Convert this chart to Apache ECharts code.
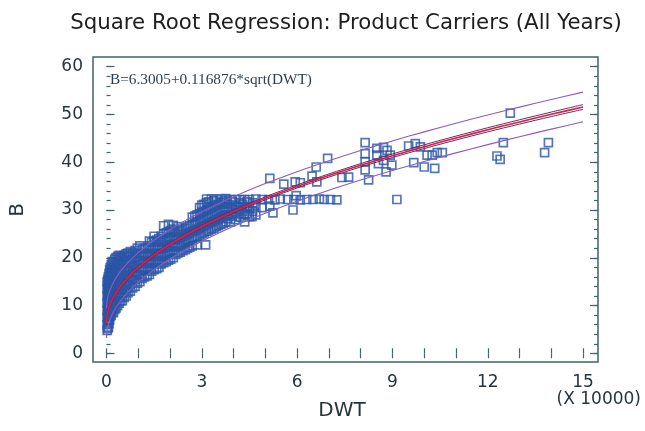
<!DOCTYPE html>
<html>
<head>
<meta charset="utf-8">
<script src="https://cdn.jsdelivr.net/npm/echarts@6/dist/echarts.min.js"></script>
<style>html,body{margin:0;padding:0;background:#fff}#c{width:645px;height:431px}</style>
</head>
<body>
<div id="c"></div>
<script>
// Observed ships: [DWT (x 10000), B]
const densePoints = [
 [0.02,4.8],[0.02,6],[0.02,7.5],[0.02,9],[0.02,10.5],[0.02,12],[0.02,13.5],[0.02,15],
 [0.06,5.5],[0.06,7],[0.06,8.5],[0.06,10],[0.06,11.5],[0.06,13],[0.06,14.5],[0.06,16],
 [0.1,7],[0.1,8.5],[0.1,10],[0.1,11.5],[0.1,13],[0.1,14.5],[0.1,16],[0.1,17.5],
 [0.15,8],[0.15,9.5],[0.15,11],[0.15,12.5],[0.15,14],[0.15,15.5],[0.15,17],[0.15,18.5],
 [0.22,8.5],[0.22,10],[0.22,11.5],[0.22,13],[0.22,14.5],[0.22,16],[0.22,17.5],[0.22,19],
 [0.3,9.5],[0.3,11],[0.3,12.5],[0.3,14],[0.3,15.5],[0.3,17],[0.3,18.5],[0.3,20],
 [0.4,10.5],[0.4,12],[0.4,13.5],[0.4,15],[0.4,16.5],[0.4,18],[0.4,19.5],[0.4,20.5],
 [0.5,11],[0.5,12.5],[0.5,14],[0.5,15.5],[0.5,17],[0.5,18.5],[0.5,20],
 [0.62,12],[0.62,13.5],[0.62,15],[0.62,16.5],[0.62,18],[0.62,19.5],[0.62,20.8],
 [0.75,13],[0.75,14.5],[0.75,16],[0.75,17.5],[0.75,19],[0.75,20.5],[0.75,21.3],
 [0.9,14],[0.9,15.5],[0.9,17],[0.9,18.5],[0.9,20],[0.9,21.5],
 [1.05,15],[1.05,16.5],[1.05,18],[1.05,19.5],[1.05,21],[1.05,22.5],
 [1.2,16],[1.2,17.5],[1.2,19],[1.2,20.5],[1.2,22],
 [1.35,16.5],[1.35,18],[1.35,19.5],[1.35,21],[1.35,22.5],[1.35,23.5],
 [1.5,17.5],[1.5,19],[1.5,20.5],[1.5,22],[1.5,23.5],[1.5,24.5],
 [1.65,18],[1.65,19.5],[1.65,21],[1.65,22.5],[1.65,24],
 [1.8,19],[1.8,20.5],[1.8,22],[1.8,23.5],[1.8,25],[1.8,26.7],
 [1.95,19.5],[1.95,21],[1.95,22.5],[1.95,24],[1.95,25.5],[1.95,27],
 [2.1,20],[2.1,21.5],[2.1,23],[2.1,24.5],[2.1,26],[2.1,26.8],
 [2.25,21],[2.25,22.5],[2.25,24],[2.25,25.5],[2.25,26.5],
 [2.4,21.5],[2.4,23],[2.4,24.5],[2.4,26],
 [2.55,22],[2.55,23.5],[2.55,25],[2.55,26.5],
 [2.7,22.5],[2.7,24],[2.7,25.5],[2.7,27],[2.7,28.5],
 [2.85,22.7],[2.85,24.5],[2.85,26],[2.85,27.5],[2.85,29],
 [3.0,25],[3.0,26.5],[3.0,28],[3.0,29.5],[3.0,31],[3.12,22.7],
 [3.15,25.5],[3.15,27],[3.15,28.5],[3.15,30],[3.15,31.5],[3.15,32.3],
 [3.3,26],[3.3,27.5],[3.3,29],[3.3,30.5],[3.3,32.3],
 [3.45,26.5],[3.45,28],[3.45,29.5],[3.45,31],[3.45,32.3],
 [3.6,27],[3.6,28.5],[3.6,30],[3.6,31.5],[3.6,32.3],
 [3.75,27.5],[3.75,29],[3.75,30.5],[3.75,32],[3.75,32.4],
 [3.9,27.5],[3.9,29],[3.9,30.5],[3.9,32.2],
 [4.05,28],[4.05,29.5],[4.05,31],[4.05,32.2],
 [4.2,28.5],[4.2,30],[4.2,31.5],[4.2,32.2],
 [4.35,27.5],[4.35,29],[4.35,30.5],[4.35,32.2],
 [4.5,28.6],[4.5,30.5],[4.5,32.2],
 [4.7,29],[4.7,31],[4.7,32.3],
 [4.9,30.5],[4.9,32.2]
];
const densePoints2 = [
 [0.04,5.2],[0.04,6.7],[0.04,8.2],[0.04,9.7],[0.04,11.2],[0.04,12.7],[0.04,14.2],[0.04,15.5],
 [0.08,6.2],[0.08,7.7],[0.08,9.2],[0.08,10.7],[0.08,12.2],[0.08,13.7],[0.08,15.2],[0.08,16.7],
 [0.12,7.7],[0.12,9.2],[0.12,10.7],[0.12,12.2],[0.12,13.7],[0.12,15.2],[0.12,16.7],[0.12,18],
 [0.18,8.7],[0.18,10.2],[0.18,11.7],[0.18,13.2],[0.18,14.7],[0.18,16.2],[0.18,17.7],[0.18,19.2],
 [0.26,9.2],[0.26,10.7],[0.26,12.2],[0.26,13.7],[0.26,15.2],[0.26,16.7],[0.26,18.2],[0.26,19.7],
 [0.35,10],[0.35,11.7],[0.35,13.2],[0.35,14.7],[0.35,16.2],[0.35,17.7],[0.35,19.2],[0.35,20.3],
 [0.45,11],[0.45,12.7],[0.45,14.2],[0.45,15.7],[0.45,17.2],[0.45,18.7],[0.45,20.2],
 [0.56,11.7],[0.56,13.2],[0.56,14.7],[0.56,16.2],[0.56,17.7],[0.56,19.2],[0.56,20.5],
 [0.68,12.7],[0.68,14.2],[0.68,15.7],[0.68,17.2],[0.68,18.7],[0.68,20.2],[0.68,21],
 [0.82,13.7],[0.82,15.2],[0.82,16.7],[0.82,18.2],[0.82,19.7],[0.82,21],
 [0.97,14.7],[0.97,16.2],[0.97,17.7],[0.97,19.2],[0.97,20.7],[0.97,22],
 [1.12,15.7],[1.12,17.2],[1.12,18.7],[1.12,20.2],[1.12,21.7],
 [1.28,16.2],[1.28,17.7],[1.28,19.2],[1.28,20.7],[1.28,22.2],
 [1.42,17.2],[1.42,18.7],[1.42,20.2],[1.42,21.7],[1.42,23.2],
 [1.58,17.7],[1.58,19.2],[1.58,20.7],[1.58,22.2],[1.58,23.7],
 [1.72,18.7],[1.72,20.2],[1.72,21.7],[1.72,23.2],[1.72,24.5],
 [1.88,19.2],[1.88,20.7],[1.88,22.2],[1.88,23.7],[1.88,25.2],
 [2.02,19.7],[2.02,21.2],[2.02,22.7],[2.02,24.2],[2.02,25.7],
 [2.18,20.7],[2.18,22.2],[2.18,23.7],[2.18,25.2],
 [2.32,21.2],[2.32,22.7],[2.32,24.2],[2.32,25.7],
 [2.48,21.7],[2.48,23.2],[2.48,24.7],[2.48,26.2],
 [2.62,22.2],[2.62,23.7],[2.62,25.2],[2.62,26.7],
 [2.78,24.2],[2.78,25.7],[2.78,27.2],[2.78,28.7],
 [2.93,24.7],[2.93,26.2],[2.93,27.7],[2.93,29.2],[2.93,30.5],
 [3.07,25.2],[3.07,26.7],[3.07,28.2],[3.07,29.7],[3.07,31.2],
 [3.22,25.7],[3.22,27.2],[3.22,28.7],[3.22,30.2],[3.22,31.7],
 [3.38,26.2],[3.38,27.7],[3.38,29.2],[3.38,30.7],[3.38,31.9],
 [3.52,26.7],[3.52,28.2],[3.52,29.7],[3.52,31.2],
 [3.68,27.2],[3.68,28.7],[3.68,30.2],[3.68,31.7],
 [3.82,28.2],[3.82,29.7],[3.82,31.2],
 [3.97,28.7],[3.97,30.2],[3.97,31.7],
 [4.12,29.2],[4.12,30.7],
 [4.28,29.7],[4.28,31.2],
 [4.42,29.2],[4.42,30.7],[4.42,31.7],
 [4.6,29.7],[4.6,31.5]
];
const rowPoints = [
 [5.1,32.2],[5.3,32.1],[5.47,32.3],[5.7,32.2],[5.9,32.2],[6.1,32.1],[6.3,32.2],
 [6.5,32.2],[6.7,32.3],[6.85,32.2],[7.05,32.2],[7.25,32.1]
];
const sparsePoints = [
 [5.14,36.6],[5.58,35.4],[5.87,30.0],[5.24,29.4],[5.14,30.8],[5.94,35.9],[6.1,35.7],
 [6.47,37.1],[6.6,39.0],[6.96,40.8],[6.62,35.9],[7.41,36.8],[7.62,36.9],[5.97,33.0],
 [4.58,28.6],
 [8.14,44.1],[8.14,41.8],[8.14,40.1],[8.14,38.4],[8.25,36.3],
 [8.51,42.9],[8.51,41.5],[8.56,39.7],[8.8,38.0],
 [8.83,42.5],[8.93,41.5],[8.98,39.4],[8.72,40.4],[8.72,43.1],
 [9.14,32.2],
 [9.51,43.4],[9.72,43.9],[9.88,43.2],[10.09,41.5],[10.25,41.5],[10.41,42.0],[10.57,42.0],
 [9.67,39.9],[10.0,39.0],[10.33,38.7],
 [12.71,50.3],[12.49,44.1],[12.29,41.3],[12.39,40.6],[13.91,44.1],[13.79,42.0]
];

// Fitted model B = 6.3005 + 0.116876*sqrt(DWT) and limits
const curveX    = [0, 0.02, 0.05, 0.1, 0.2, 0.35, 0.5, 0.75, 1, 1.5, 2, 2.5, 3, 4, 5, 6, 7, 8, 9, 10, 11, 12, 13, 14, 15];
const fitB      = [6.30, 7.95, 8.91, 10.00, 11.53, 13.21, 14.56, 16.42, 17.99, 20.61, 22.83, 24.78, 26.54, 29.68, 32.44, 34.93, 37.22, 39.36, 41.36, 43.26, 45.06, 46.79, 48.44, 50.03, 51.57];
const predUpper = [9.40, 11.05, 12.01, 13.10, 14.63, 16.31, 17.66, 19.52, 21.09, 23.71, 25.93, 27.88, 29.64, 32.78, 35.54, 38.03, 40.32, 42.46, 44.46, 46.36, 48.16, 49.89, 51.54, 53.13, 54.67];
const predLower = [3.20, 4.85, 5.81, 6.90, 8.43, 10.11, 11.46, 13.32, 14.89, 17.51, 19.73, 21.68, 23.44, 26.58, 29.34, 31.83, 34.12, 36.26, 38.26, 40.16, 41.96, 43.69, 45.34, 46.93, 48.47];
const confUpper = [6.80, 8.42, 9.36, 10.43, 11.94, 13.60, 14.94, 16.78, 18.33, 20.94, 23.15, 25.09, 26.85, 29.99, 32.75, 35.25, 37.55, 39.71, 41.73, 43.65, 45.47, 47.22, 48.89, 50.50, 52.07];
const confLower = [5.80, 7.48, 8.46, 9.57, 11.12, 12.82, 14.18, 16.06, 17.65, 20.28, 22.51, 24.47, 26.23, 29.37, 32.13, 34.61, 36.89, 39.01, 40.99, 42.87, 44.65, 46.36, 47.99, 49.56, 51.07];

const xTickValues  = [0,1,2,3,4,5,6,7,8,9,10,11,12,13,14,15];
const xLabelValues = [0,3,6,9,12,15];
const yMajorValues = [0,10,20,30,40,50,60];
const yMinorValues = [0,2,4,6,8,10,12,14,16,18,20,22,24,26,28,30,32,34,36,38,40,42,44,46,48,50,52,54,56,58,60];

const pair = (xs, ys) => xs.map((x, i) => [x, ys[i]]);
const frameColor = '#43626a';
const textColor = '#26363c';
const XMIN = -0.425, XMAX = 15.47, YMIN = -1.82, YMAX = 62.03;

function xAx(pos, labels) {
  return {
    type: 'value', position: pos, min: XMIN, max: XMAX,
    axisLine: {show: false}, splitLine: {show: false},
    axisTick: {show: true, inside: true, length: 5, customValues: xTickValues, lineStyle: {color: frameColor, width: 1.2}},
    axisLabel: labels ? {show: true, customValues: xLabelValues, fontSize: 17, fontFamily: 'DejaVu Sans', color: textColor, margin: 12} : {show: false}
  };
}
function yAx(pos, vals, len, labels) {
  return {
    type: 'value', position: pos, min: YMIN, max: YMAX,
    axisLine: {show: false}, splitLine: {show: false},
    axisTick: {show: true, inside: true, length: len, customValues: vals, lineStyle: {color: frameColor, width: 1.2}},
    axisLabel: labels ? {show: true, customValues: yMajorValues, fontSize: 17, fontFamily: 'DejaVu Sans', color: textColor, margin: 10} : {show: false}
  };
}
function lineSeries(data, color, width, z) {
  return {type: 'line', data: data, xAxisIndex: 0, yAxisIndex: 0, showSymbol: false, smooth: 0.3,
    lineStyle: {color: color, width: width}, z: z, silent: true, animation: false};
}

const chart = echarts.init(document.getElementById('c'), null, {renderer: 'canvas'});
chart.setOption({
  animation: false,
  backgroundColor: '#ffffff',
  title: {text: 'Square Root Regression: Product Carriers (All Years)', left: 341, top: 8, textAlign: 'center',
    textStyle: {fontFamily: 'DejaVu Sans', fontSize: 21.3, fontWeight: 'normal', color: '#1e1e1e'}},
  grid: {left: 93, top: 57, right: 47, bottom: 69, show: true, borderColor: frameColor, borderWidth: 1.5, backgroundColor: '#fff'},
  xAxis: [xAx('bottom', true), xAx('top', false)],
  yAxis: [yAx('left', yMajorValues, 8, true), yAx('left', yMinorValues, 4, false), yAx('right', yMajorValues, 8, false), yAx('right', yMinorValues, 4, false)],
  series: [
    {type: 'scatter', data: densePoints.concat(densePoints2, rowPoints, sparsePoints), symbol: 'rect', symbolSize: 8,
      itemStyle: {color: 'rgba(0,0,0,0)', borderColor: '#2a55a6', borderWidth: 1.7}, z: 2},
    lineSeries(pair(curveX, predUpper), '#8a5cc0', 1.1, 3),
    lineSeries(pair(curveX, predLower), '#8a5cc0', 1.1, 3),
    lineSeries(pair(curveX, confUpper), '#6a2a70', 1, 4),
    lineSeries(pair(curveX, confLower), '#6a2a70', 1, 4),
    lineSeries(pair(curveX, fitB), '#d8203e', 1.6, 5)
  ],
  graphic: [
    {type: 'text', left: 110, top: 72, style: {text: 'B=6.3005+0.116876*sqrt(DWT)', fontFamily: 'Liberation Serif', fontSize: 15.3, fill: '#2e3e4c'}},
    {type: 'text', x: 342, y: 411, style: {text: 'DWT', fontFamily: 'DejaVu Sans', fontSize: 20, fill: textColor, align: 'center', verticalAlign: 'middle'}},
    {type: 'text', x: 641, y: 400, style: {text: '(X 10000)', fontFamily: 'DejaVu Sans', fontSize: 17, fill: textColor, align: 'right', verticalAlign: 'middle'}},
    {type: 'text', x: 18, y: 210, rotation: Math.PI / 2, style: {text: 'B', fontFamily: 'DejaVu Sans', fontSize: 20, fill: textColor, align: 'center', verticalAlign: 'middle'}}
  ]
});
</script>
</body>
</html>
